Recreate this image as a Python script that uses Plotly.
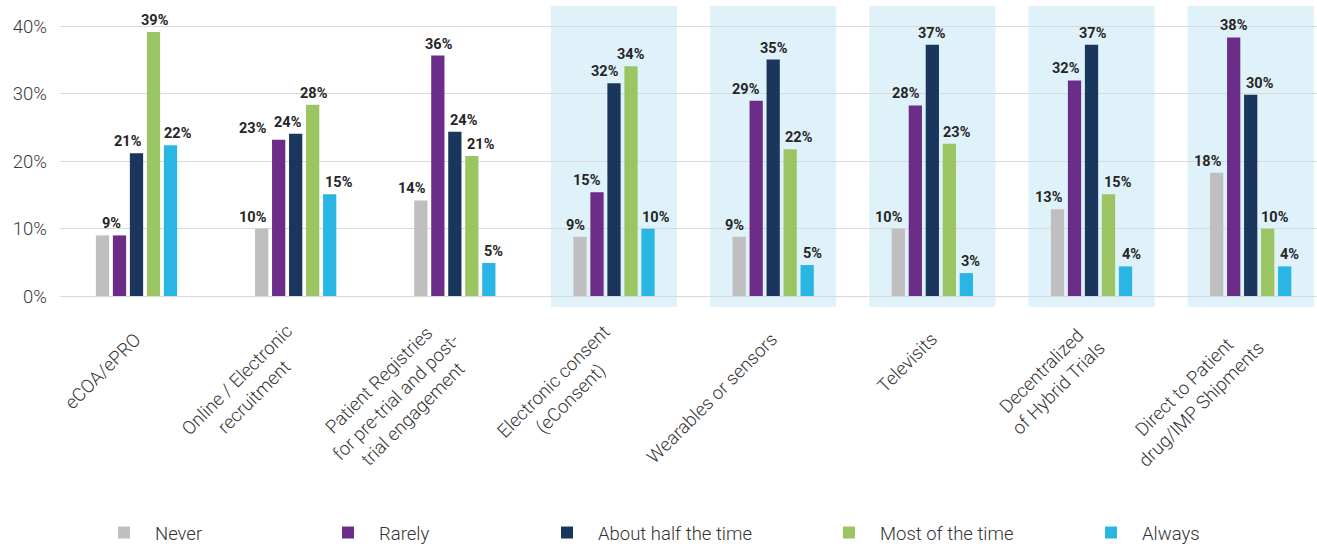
import plotly.graph_objects as go

categories = ["eCOA/ePRO", "Online / Electronic<br>recruitment",
              "Patient Registries<br>for pre-trial and post-<br>trial engagement",
              "Electronic consent<br>(eConsent)", "Wearables or sensors", "Televisits",
              "Decentralized<br>of Hybrid Trials", "Direct to Patient<br>drug/IMP Shipments"]
series_names = ["Never", "Rarely", "About half the time", "Most of the time", "Always"]
never = [9.0, 10.0, 14.2, 8.8, 8.8, 10.0, 12.9, 18.3]
rarely = [9.0, 23.2, 35.7, 15.4, 29.0, 28.3, 32.0, 38.4]
about_half = [21.2, 24.1, 24.4, 31.6, 35.1, 37.3, 37.3, 29.9]
most = [39.2, 28.4, 20.8, 34.1, 21.8, 22.6, 15.1, 10.0]
always = [22.4, 15.1, 4.9, 10.0, 4.6, 3.4, 4.4, 4.4]
highlighted = [3, 4, 5, 6, 7]
y_ticks = [0, 10, 20, 30, 40]

# style
colors = ["#bfbfbf", "#6b2d87", "#1b365d", "#9bc563", "#2ab6e4"]
# label horizontal offset (px) from bar centre; None = hidden
label_dx = [[8.5, None, -9, 1.5, 8], [-8.5, -26, -8, 1.5, 9], [-8.5, 1.3, 9, 9, 5],
            [-5, -10, -9, 0, 8], [-4.5, -10, 0.7, 8.6, 5.4], [-9.5, -9.7, 0, 7.7, 4],
            [-9, -9, 1.3, 9.3, 5.6], [-8.7, 0.3, 9, 7.6, 4.8]]
legend_sq_centers = [124, 348, 567, 849, 1111]
XLAB_SIZE = 18.5

W, H = 1317, 546
ML, MR, MT, MB = 60, 0, 6, 239
XR = [-0.4806, 7.4166]
BARGAP = 0.466
cat_px = (W - ML - MR) / (XR[1] - XR[0])
pitch = cat_px * (1 - BARGAP) / 5
plot_h = H - MT - MB

data = [never, rarely, about_half, most, always]
xpos = list(range(len(categories)))

fig = go.Figure()
for i, (name, vals) in enumerate(zip(series_names, data)):
    fig.add_trace(go.Bar(x=xpos, y=vals, name=name, marker=dict(color=colors[i], line=dict(width=0)),
                         legend="legend" if i == 0 else f"legend{i+1}", hoverinfo="skip"))

ann = []
for i, vals in enumerate(data):
    for g, v in enumerate(vals):
        dx = label_dx[g][i]
        if dx is None:
            continue
        ann.append(dict(x=g, y=v, xref="x", yref="y", text=f"{round(v)}%", showarrow=False,
                        xanchor="center", yanchor="bottom", xshift=(i - 2) * pitch + dx, yshift=1,
                        font=dict(family="Roboto", size=14.5, color="#262626", weight="bold")))
for g, c in enumerate(categories):
    h = (c.count("<br>") + 1) * 1.3 * XLAB_SIZE
    k = 0.3536 * h
    ann.append(dict(x=g, y=0, xref="x", yref="paper", text=c, showarrow=False, textangle=-45,
                    xanchor="right", yanchor="top", xshift=3.5 + k, yshift=-27.5 + k, align="center",
                    font=dict(family="Roboto", size=XLAB_SIZE, color="#333333", weight=300)))

shapes = [dict(type="rect", xref="x", yref="paper", x0=g - 0.396, x1=g + 0.396, y0=0, y1=1,
               fillcolor="#dff2fa", line=dict(width=0), layer="below") for g in highlighted]

legends = {}
for i, cx in enumerate(legend_sq_centers):
    key = "legend" if i == 0 else f"legend{i+1}"
    legends[key] = dict(x=(cx - 31 - ML) / (W - ML - MR), xanchor="left",
                        y=-(533 - (H - MB)) / plot_h, yanchor="middle",
                        orientation="h", itemwidth=52, bgcolor="rgba(0,0,0,0)",
                        font=dict(family="Roboto", size=18.5, color="#333333", weight=300))

fig.update_layout(
    width=W, height=H, margin=dict(l=ML, r=MR, t=MT, b=MB, autoexpand=False),
    paper_bgcolor="white", plot_bgcolor="rgba(0,0,0,0)",
    barmode="group", bargap=BARGAP, bargroupgap=0.22,
    xaxis=dict(range=XR, showticklabels=False, showgrid=False, zeroline=False, ticks=""),
    yaxis=dict(range=[-1.63, 43.06], tickvals=y_ticks, ticktext=[f"{t}%" for t in y_ticks],
               showgrid=True, gridcolor="#d9d9d9", gridwidth=1.3, zeroline=False, ticks="",
               ticklabelstandoff=12,
               tickfont=dict(family="Roboto", size=18.5, color="#3a3a3a", weight=300)),
    annotations=ann, shapes=shapes, showlegend=True, **legends,
)
fig.write_html("out.html")
